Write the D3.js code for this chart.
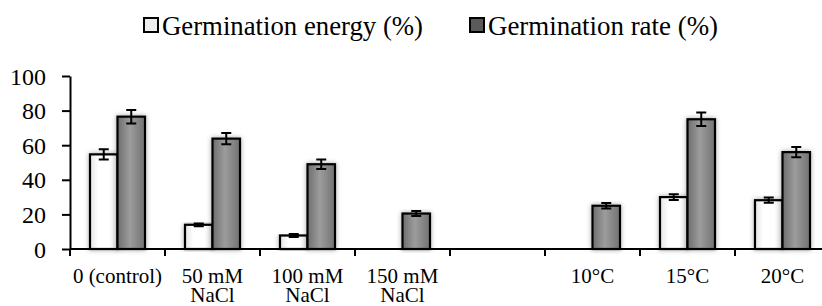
<!DOCTYPE html>
<html>
<head>
<meta charset="utf-8">
<script src="https://cdn.jsdelivr.net/npm/d3@7"></script>
<style>
  body { margin: 0; background: #fff; }
  svg text { font-family: "Liberation Serif", "DejaVu Serif", serif; fill: #000; }
</style>
</head>
<body>
<div id="container"></div>
<script>
const categories = ["0 (control)", "50 mM|NaCl", "100 mM|NaCl", "150 mM|NaCl", " ", "10°C", "15°C", "20°C"];
const energy    = [54.7, 14, 7.8, 0, null, 0, 30, 28.2];
const energyErr = [3, 0.8, 0.8, 0, null, 0, 1.7, 1.5];
const rate      = [76.5, 63.8, 49, 20.5, null, 25, 75, 56];
const rateErr   = [3.9, 3.3, 2.8, 1.4, null, 1.6, 3.9, 2.9];
const yTicks = [0, 20, 40, 60, 80, 100];
const seriesNames = ["Germination energy (%)", "Germination rate (%)"];

const width = 822, height = 306;
const padding = { top: 76, bot: 57, left: 70 };
const serif = "Liberation Serif, DejaVu Serif, serif";

const svg = d3.select("#container")
              .append("svg")
              .attr("width", width)
              .attr("height", height)
              .attr("font-family", serif);

const defs = svg.append("defs");
const gWhite = defs.append("linearGradient").attr("id", "gWhite");
gWhite.append("stop").attr("offset", "0%").attr("stop-color", "#e4e4e4");
gWhite.append("stop").attr("offset", "30%").attr("stop-color", "#ffffff");
gWhite.append("stop").attr("offset", "70%").attr("stop-color", "#ffffff");
gWhite.append("stop").attr("offset", "100%").attr("stop-color", "#e4e4e4");
const gGray = defs.append("linearGradient").attr("id", "gGray");
gGray.append("stop").attr("offset", "0%").attr("stop-color", "#6e6e6e");
gGray.append("stop").attr("offset", "45%").attr("stop-color", "#9c9c9c");
gGray.append("stop").attr("offset", "100%").attr("stop-color", "#727272");
const shadow = defs.append("filter").attr("id", "shadow")
                   .attr("x", "-30%").attr("y", "-10%").attr("width", "160%").attr("height", "120%");
shadow.append("feDropShadow").attr("dx", 0).attr("dy", 0).attr("stdDeviation", 2.5)
      .attr("flood-color", "#000").attr("flood-opacity", 0.35);

const xScale = d3.scaleBand()
                 .domain(categories)
                 .range([padding.left, padding.left + 95 * categories.length]);
const inner = d3.scaleBand()
                .domain([0, 1])
                .range([20, 75]);
const yScale = d3.scaleLinear()
                 .domain([0, 100])
                 .range([height - padding.bot, padding.top]);

const rows = categories.map((c, i) => ({ c, v: [energy[i], rate[i]], e: [energyErr[i], rateErr[i]] }));
const fills = ["url(#gWhite)", "url(#gGray)"];

const groups = svg.selectAll("g.cat")
                  .data(rows)
                  .enter()
                  .append("g")
                  .attr("class", "cat")
                  .attr("transform", (d) => "translate(" + xScale(d.c) + ",0)");

const bars = groups.selectAll("g.bar")
                   .data((d) => d.v.map((v, k) => ({ v, e: d.e[k], k })).filter((b) => b.v))
                   .enter()
                   .append("g")
                   .attr("class", "bar");

bars.append("rect")
    .attr("x", (d) => inner(d.k))
    .attr("y", (d) => yScale(d.v))
    .attr("width", inner.bandwidth())
    .attr("height", (d) => yScale(0) - yScale(d.v))
    .attr("fill", (d) => fills[d.k])
    .attr("stroke", "#000")
    .attr("stroke-width", 2.2)
    .attr("filter", "url(#shadow)");

bars.append("path")
    .attr("d", (d) => {
      const cx = inner(d.k) + inner.bandwidth() / 2;
      const y1 = yScale(d.v + d.e), y2 = yScale(d.v - d.e);
      return "M" + (cx - 5) + "," + y1 + "H" + (cx + 5) + "M" + cx + "," + y1 + "V" + y2 + "M" + (cx - 5) + "," + y2 + "H" + (cx + 5);
    })
    .attr("stroke", "#000")
    .attr("stroke-width", 2)
    .attr("fill", "none");

// y axis
const yAxis = d3.axisLeft(yScale)
                .tickValues(yTicks)
                .tickSize(8)
                .tickSizeOuter(0)
                .tickPadding(16);
const yG = svg.append("g")
              .attr("transform", "translate(" + padding.left + ",0)")
              .call(yAxis)
              .attr("font-family", serif);
yG.selectAll("line, path").attr("stroke", "#000").attr("stroke-width", 2);
yG.selectAll("text").attr("font-size", 24).attr("dy", "0.34em").attr("font-family", serif);

// x axis
const base = yScale(0);
svg.append("line")
   .attr("x1", padding.left).attr("x2", width)
   .attr("y1", base).attr("y2", base)
   .attr("stroke", "#000").attr("stroke-width", 2);
svg.selectAll("line.xtick")
   .data(categories)
   .enter()
   .append("line")
   .attr("class", "xtick")
   .attr("x1", (d) => xScale(d)).attr("x2", (d) => xScale(d))
   .attr("y1", base).attr("y2", base + 7)
   .attr("stroke", "#000").attr("stroke-width", 2);

const labels = svg.selectAll("text.xlab")
                  .data(categories)
                  .enter()
                  .append("text")
                  .attr("class", "xlab")
                  .attr("text-anchor", "middle")
                  .attr("font-family", serif)
                  .attr("font-size", 21);
labels.selectAll("tspan")
      .data((d) => d.split("|").map((s) => ({ s, c: d })))
      .enter()
      .append("tspan")
      .attr("x", (d) => xScale(d.c) + xScale.bandwidth() / 2)
      .attr("y", (d, i) => 283 + i * 19)
      .text((d) => d.s);

// legend
const legendX = [143, 469];
const legendLen = [261, 230];
const legend = svg.selectAll("g.legend")
                  .data(seriesNames)
                  .enter()
                  .append("g")
                  .attr("class", "legend")
                  .attr("transform", (d, i) => "translate(" + legendX[i] + ",0)");
legend.append("rect")
      .attr("x", 1).attr("y", 18)
      .attr("width", 14).attr("height", 14)
      .attr("fill", (d, i) => i ? "#5a5a5a" : "#eeeeee")
      .attr("stroke", "#000")
      .attr("stroke-width", 2);
legend.append("text")
      .attr("x", 19).attr("y", 34.5)
      .attr("font-family", serif)
      .attr("font-size", 28)
      .attr("textLength", (d, i) => legendLen[i])
      .attr("lengthAdjust", "spacingAndGlyphs")
      .text((d) => d);
</script>
</body>
</html>
